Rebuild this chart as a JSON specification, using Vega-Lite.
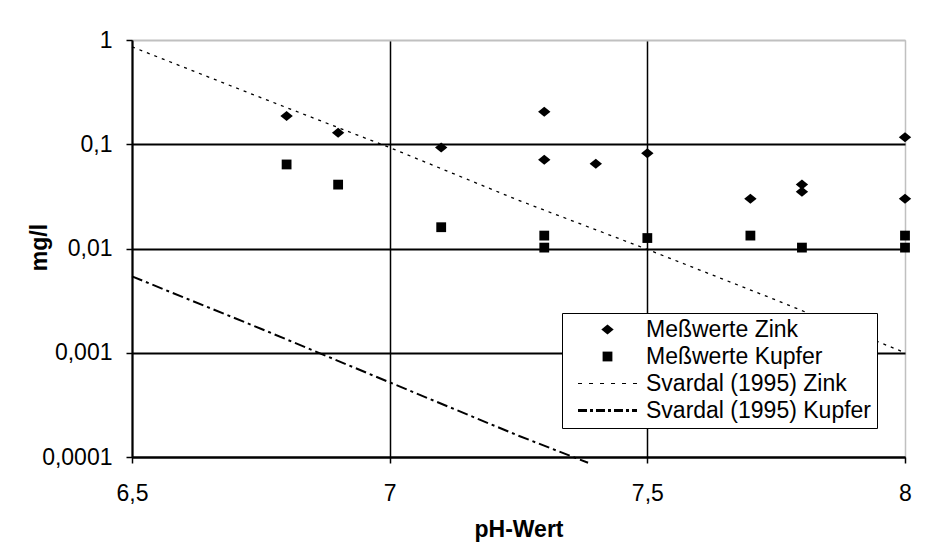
{
  "$schema": "https://vega.github.io/schema/vega-lite/v6.json",
  "width": 773,
  "height": 417,
  "autosize": {"type": "none"},
  "padding": {"left": 132, "top": 40, "right": 47, "bottom": 92},
  "background": "white",
  "config": {
    "font": "Liberation Sans",
    "view": {"stroke": "#c0c0c0", "strokeWidth": 1},
    "legend": {
      "symbolSize": 400,
      "symbolStrokeColor": "black",
      "symbolFillColor": "black",
      "labelFont": "Liberation Sans",
      "labelFontSize": 23,
      "labelColor": "black",
      "labelLimit": 400,
      "labelOffset": 27,
      "symbolOffset": 29,
      "rowPadding": 3,
      "padding": 5,
      "strokeColor": "black",
      "fillColor": "white"
    }
  },
  "datasets": {
    "points": [
      {"ph": 6.8, "v": 0.187, "series": "Meßwerte Zink"},
      {"ph": 6.9, "v": 0.129, "series": "Meßwerte Zink"},
      {"ph": 7.1, "v": 0.093, "series": "Meßwerte Zink"},
      {"ph": 7.3, "v": 0.205, "series": "Meßwerte Zink"},
      {"ph": 7.3, "v": 0.071, "series": "Meßwerte Zink"},
      {"ph": 7.4, "v": 0.065, "series": "Meßwerte Zink"},
      {"ph": 7.5, "v": 0.082, "series": "Meßwerte Zink"},
      {"ph": 7.7, "v": 0.030, "series": "Meßwerte Zink"},
      {"ph": 7.8, "v": 0.041, "series": "Meßwerte Zink"},
      {"ph": 7.8, "v": 0.035, "series": "Meßwerte Zink"},
      {"ph": 8.0, "v": 0.117, "series": "Meßwerte Zink"},
      {"ph": 8.0, "v": 0.030, "series": "Meßwerte Zink"},
      {"ph": 6.8, "v": 0.064, "series": "Meßwerte Kupfer"},
      {"ph": 6.9, "v": 0.041, "series": "Meßwerte Kupfer"},
      {"ph": 7.1, "v": 0.016, "series": "Meßwerte Kupfer"},
      {"ph": 7.3, "v": 0.0133, "series": "Meßwerte Kupfer"},
      {"ph": 7.3, "v": 0.0102, "series": "Meßwerte Kupfer"},
      {"ph": 7.5, "v": 0.0126, "series": "Meßwerte Kupfer"},
      {"ph": 7.7, "v": 0.0133, "series": "Meßwerte Kupfer"},
      {"ph": 7.8, "v": 0.0102, "series": "Meßwerte Kupfer"},
      {"ph": 8.0, "v": 0.0133, "series": "Meßwerte Kupfer"},
      {"ph": 8.0, "v": 0.0102, "series": "Meßwerte Kupfer"}
    ],
    "lines": [
      {"ph": 6.5, "v": 0.86, "series": "Svardal (1995) Zink"},
      {"ph": 6.75, "v": 0.28, "series": "Svardal (1995) Zink"},
      {"ph": 7.0, "v": 0.093, "series": "Svardal (1995) Zink"},
      {"ph": 7.25, "v": 0.029, "series": "Svardal (1995) Zink"},
      {"ph": 7.5, "v": 0.0098, "series": "Svardal (1995) Zink"},
      {"ph": 7.75, "v": 0.0032, "series": "Svardal (1995) Zink"},
      {"ph": 8.0, "v": 0.001, "series": "Svardal (1995) Zink"},
      {"ph": 6.5, "v": 0.0054, "series": "Svardal (1995) Kupfer"},
      {"ph": 6.75, "v": 0.0017, "series": "Svardal (1995) Kupfer"},
      {"ph": 7.0, "v": 0.00052, "series": "Svardal (1995) Kupfer"},
      {"ph": 7.25, "v": 0.00016, "series": "Svardal (1995) Kupfer"},
      {"ph": 7.385, "v": 0.000088, "series": "Svardal (1995) Kupfer"}
    ]
  },
  "encoding": {
    "x": {
      "field": "ph",
      "type": "quantitative",
      "scale": {"domain": [6.5, 8], "nice": false, "zero": false},
      "axis": {
        "values": [6.5, 7, 7.5, 8],
        "format": "~g",
        "labelExpr": "replace(datum.label, '.', ',')",
        "grid": true,
        "gridColor": {"condition": {"test": "datum.value == 8", "value": "#c0c0c0"}, "value": "black"},
        "gridWidth": 1.5,
        "domainColor": "black",
        "domainWidth": 2,
        "tickColor": "black",
        "tickSize": 6,
        "tickWidth": 1.5,
        "labelFontSize": 23,
        "labelColor": "black",
        "labelPadding": 19,
        "labelFlush": false,
        "title": "pH-Wert",
        "titleFontSize": 23,
        "titleFontWeight": "bold",
        "titleColor": "black",
        "titleY": 79,
        "titleBaseline": "alphabetic"
      }
    },
    "y": {
      "field": "v",
      "type": "quantitative",
      "scale": {"type": "log", "domain": [0.0001, 1], "nice": false},
      "axis": {
        "values": [0.0001, 0.001, 0.01, 0.1, 1],
        "format": ".4~f",
        "labelExpr": "replace(datum.label, '.', ',')",
        "grid": true,
        "gridColor": {"condition": {"test": "datum.value == 1", "value": "#c0c0c0"}, "value": "black"},
        "gridWidth": 2,
        "domainColor": "black",
        "domainWidth": 2,
        "tickColor": "black",
        "tickSize": 6,
        "tickWidth": 1.5,
        "labelFontSize": 23,
        "labelColor": "black",
        "labelPadding": 14,
        "labelFlush": false,
        "title": "mg/l",
        "titleFontSize": 23,
        "titleFontWeight": "bold",
        "titleColor": "black",
        "titleX": -93,
        "titleY": 207,
        "titleAlign": "center",
        "titleBaseline": "middle"
      }
    }
  },
  "layer": [
    {
      "data": {"name": "lines"},
      "mark": {"type": "line", "color": "black", "clip": false},
      "encoding": {
        "strokeDash": {
          "field": "series",
          "type": "nominal",
          "scale": {
            "domain": ["Svardal (1995) Zink", "Svardal (1995) Kupfer"],
            "range": [[3, 5], [11, 4, 3, 4]]
          },
          "legend": null
        },
        "strokeWidth": {
          "field": "series",
          "type": "ordinal",
          "scale": {
            "domain": ["Svardal (1995) Zink", "Svardal (1995) Kupfer"],
            "range": [1.3, 2]
          },
          "legend": null
        }
      }
    },
    {
      "data": {"name": "points"},
      "mark": {"type": "point", "filled": true, "color": "black", "opacity": 1, "size": 400},
      "encoding": {
        "shape": {
          "field": "series",
          "type": "nominal",
          "scale": {
            "domain": ["Meßwerte Zink", "Meßwerte Kupfer", "Svardal (1995) Zink", "Svardal (1995) Kupfer"],
            "range": [
              "M0,-0.5L0.62,0L0,0.5L-0.62,0Z",
              "M-0.49,-0.49L0.49,-0.49L0.49,0.49L-0.49,0.49Z",
              "M-2.95,-0.059L-2.549,-0.059L-2.549,0.059L-2.95,0.059Z M-1.85,-0.059L-1.448,-0.059L-1.448,0.059L-1.85,0.059Z M-0.749,-0.059L-0.348,-0.059L-0.348,0.059L-0.749,0.059Z M0.351,-0.059L0.752,-0.059L0.752,0.059L0.351,0.059Z M1.451,-0.059L1.853,-0.059L1.853,0.059L1.451,0.059Z M2.549,-0.059L2.95,-0.059L2.95,0.059L2.549,0.059Z",
              "M-2.95,-0.1475L-2.05,-0.1475L-2.05,0.1475L-2.95,0.1475Z M-1.749,-0.1475L-1.451,-0.1475L-1.451,0.1475L-1.749,0.1475Z M-1.151,-0.1475L-0.251,-0.1475L-0.251,0.1475L-1.151,0.1475Z M0.05,-0.1475L0.351,-0.1475L0.351,0.1475L0.05,0.1475Z M0.649,-0.1475L1.549,-0.1475L1.549,0.1475L0.649,0.1475Z M1.85,-0.1475L2.151,-0.1475L2.151,0.1475L1.85,0.1475Z M2.451,-0.1475L2.95,-0.1475L2.95,0.1475L2.451,0.1475Z"
            ]
          },
          "legend": {"title": null, "orient": "none", "legendX": 430, "legendY": 273,
            "encode": {"symbols": {"update": {"stroke": {"value": "transparent"}, "fill": {"value": "black"}}}}}
        }
      }
    }
  ]
}
